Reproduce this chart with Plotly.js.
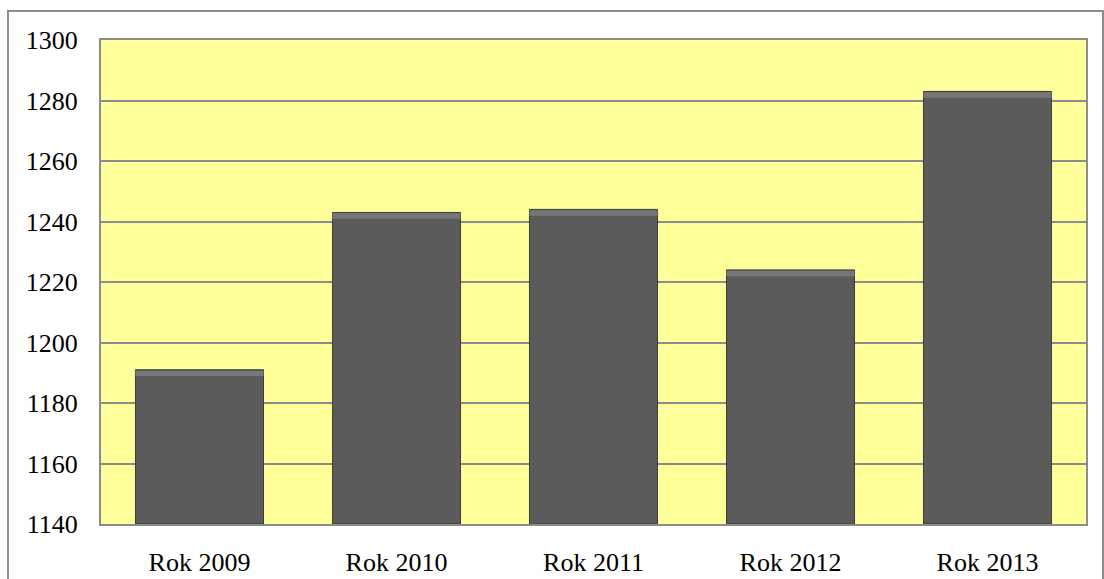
<!DOCTYPE html>
<html>
<head>
<meta charset="utf-8">
<script src="https://cdn.plot.ly/plotly-3.0.1.min.js"></script>
<style>
  html, body { margin: 0; padding: 0; background: #ffffff; }
  #chart { width: 1104px; height: 579px; }
</style>
</head>
<body>
<div id="chart"></div>
<script>
const categories = ["Rok 2009", "Rok 2010", "Rok 2011", "Rok 2012", "Rok 2013"];
const values = [1191, 1243, 1244, 1224, 1283];
const yTicks = [1140, 1160, 1180, 1200, 1220, 1240, 1260, 1280, 1300];
const baseValue = 1140;
const bevel = 1.8;

const trace = {
  type: "bar",
  x: categories,
  y: values.map(v => v - baseValue),
  base: baseValue,
  marker: { color: "#5b5b5b", line: { color: "#3c3c3c", width: 1 } },
  hoverinfo: "x+y"
};

// subtle lighter bevel strip at the top of each bar
const bevelTrace = {
  type: "bar",
  x: categories,
  y: values.map(() => bevel),
  base: values.map(v => v - bevel - 0.3),
  marker: { color: "#777777", line: { width: 0 } },
  hoverinfo: "skip"
};

const serif = "Liberation Serif";

const layout = {
  width: 1104,
  height: 579,
  margin: { l: 101, r: 18, t: 40, b: 55 },
  paper_bgcolor: "#ffffff",
  plot_bgcolor: "#ffff99",
  bargap: 0.35,
  barmode: "overlay",
  showlegend: false,
  font: { family: serif, size: 26, color: "#000000" },
  xaxis: {
    type: "category",
    showgrid: false,
    showline: true,
    linecolor: "#8c8c8c",
    linewidth: 2,
    mirror: true,
    ticks: "",
    ticklabelstandoff: 14,
    tickfont: { family: serif, size: 26, color: "#000000" }
  },
  yaxis: {
    range: [1140, 1300],
    tickvals: yTicks,
    ticktext: yTicks.map(String),
    showgrid: true,
    gridcolor: "#8c8c8c",
    gridwidth: 2,
    showline: true,
    linecolor: "#8c8c8c",
    linewidth: 2,
    mirror: true,
    ticks: "",
    zeroline: false,
    ticklabelstandoff: 16,
    tickfont: { family: serif, size: 26, color: "#000000" }
  },
  shapes: [
    {
      type: "rect", xref: "paper", yref: "paper",
      x0: (8 - 101) / 985, x1: (1103 - 101) / 985,
      y0: (524 - 600) / 484, y1: (524 - 11) / 484,
      line: { color: "#8c8c8c", width: 2 }, fillcolor: "rgba(0,0,0,0)", layer: "below"
    }
  ]
};

Plotly.newPlot("chart", [trace, bevelTrace], layout, { displayModeBar: false, staticPlot: true });
</script>
</body>
</html>
